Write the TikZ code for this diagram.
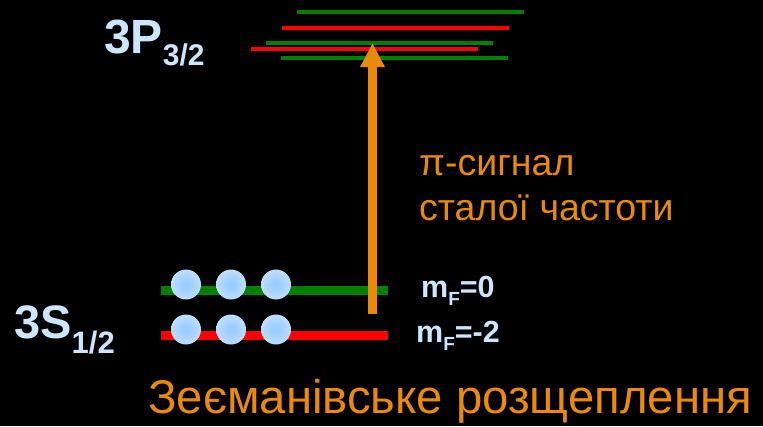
\documentclass[tikz,border=0pt]{standalone}
\usepackage{fontspec}
\setmainfont{Liberation Sans}
\usetikzlibrary{arrows.meta}
\definecolor{labelblue}{RGB}{205,230,255}
\definecolor{sigorange}{RGB}{235,137,10}
\definecolor{levgreen}{RGB}{0,128,0}
\definecolor{levred}{RGB}{255,0,0}
\definecolor{ballin}{RGB}{155,205,255}
\definecolor{ballout}{RGB}{238,246,255}
\pgfdeclareradialshading{ballshade}{\pgfpoint{0bp}{0bp}}{%
  color(0bp)=(ballin); color(6bp)=(ballin); color(50bp)=(ballout)}
\tikzset{
  toplevel/.style={line width=4pt},
  lowlevel/.style={line width=9pt},
  atom/.style={circle, minimum size=30pt, inner sep=0pt, shading=ballshade},
  termlabel/.style={text=labelblue, font=\bfseries, inner sep=0pt, anchor=base west},
  mflabel/.style={text=labelblue, font=\bfseries\fontsize{30.5}{32}\selectfont, inner sep=0pt, anchor=base west},
  orangetext/.style={text=sigorange, inner sep=0pt, anchor=base west},
}
\begin{document}
\begin{tikzpicture}[x=1pt, y=-1pt]
  \fill[black] (0,0) rectangle (763,426);
  \useasboundingbox (0,0) rectangle (763,426);

  % upper term: hyperfine sublevels
  \draw[toplevel, levgreen] (297,12) -- (524,12);
  \draw[toplevel, levred]   (282,28) -- (509,28);
  \draw[toplevel, levgreen] (266,43) -- (493,43);
  \draw[toplevel, levred]   (251,48.5) -- (478,48.5);
  \draw[toplevel, levgreen] (281,58) -- (508,58);

  % lower term: two Zeeman sublevels
  \draw[lowlevel, levgreen] (161,290.5) -- (388,290.5);
  \draw[lowlevel, levred]   (161,335.5) -- (388,335.5);

  % pumping transition
  \coordinate (from) at (372.5,314);
  \coordinate (to) at (372.5,43);
  \draw[sigorange, line width=9pt, -{Triangle[width=23pt,length=24pt]}] (from) -- (to);

  % atoms on the sublevels
  \foreach \i/\x in {1/186,2/231,3/276} {
    \node[atom] (a0\i) at (\x,284.5) {};
    \node[atom] (a2\i) at (\x,329.5) {};
  }

  % term labels
  \node[termlabel, font=\bfseries\fontsize{48}{50}\selectfont] (tp) at (104,53)
    {3P\raisebox{-12pt}{\fontsize{30}{30}\selectfont 3/2}};
  \node[termlabel, font=\bfseries\fontsize{47}{50}\selectfont] (ts) at (14,338)
    {3S\raisebox{-15pt}{\fontsize{31}{31}\selectfont 1/2}};

  % sublevel labels
  \node[mflabel] (m0) at (421,297)
    {m\raisebox{-8pt}{\fontsize{19}{19}\selectfont F}=0};
  \node[mflabel] (m2) at (416,342)
    {m\raisebox{-8pt}{\fontsize{19}{19}\selectfont F}=-2};

  % signal description
  \node[orangetext, font=\fontsize{37.5}{40}\selectfont] (s1) at (419,175) {π-сигнал};
  \node[orangetext, font=\fontsize{37.5}{40}\selectfont] (s2) at (419,220) {сталої частоти};

  % caption
  \node[orangetext, font=\fontsize{47.3}{50}\selectfont] (cap) at (148,413)
    {Зеєманівське розщеплення};
\end{tikzpicture}
\end{document}
